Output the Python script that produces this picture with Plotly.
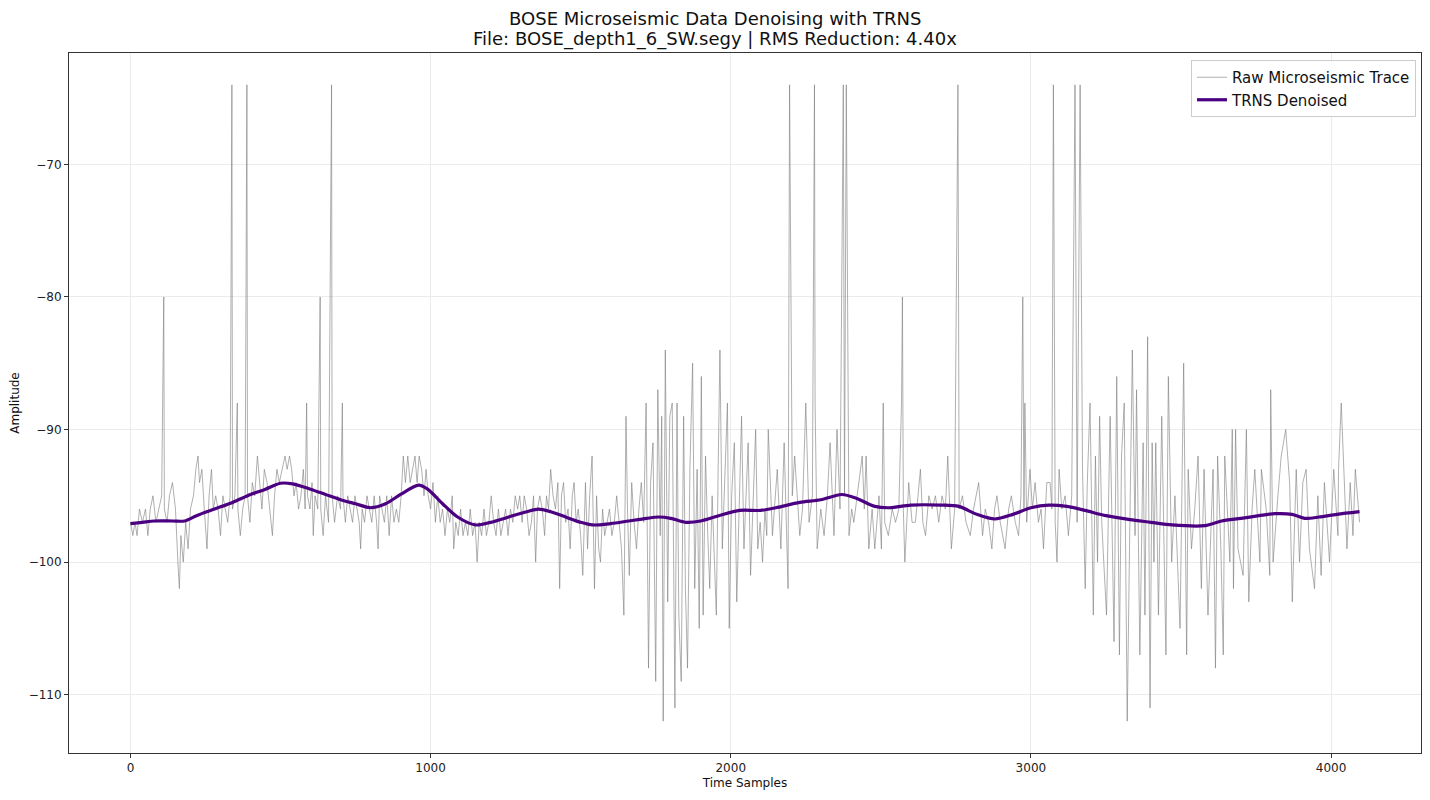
import plotly.graph_objects as go

# ---------------- data ----------------
raw_samples = [
    0, 8, 15, 22, 30, 40, 50, 58, 66, 75,
    85, 95, 104, 111, 113, 122, 130, 140, 150, 158,
    163, 168, 176, 184, 192, 200, 210, 218, 225, 230,
    238, 246, 255, 262, 270, 276, 284, 292, 300, 308,
    316, 324, 332, 338, 340, 348, 356, 358, 366, 374,
    382, 388, 390, 398, 406, 414, 423, 430, 438, 446,
    455, 464, 473, 480, 488, 496, 505, 515, 522, 530,
    537, 545, 552, 560, 568, 576, 582, 587, 590, 598,
    605, 609, 615, 624, 632, 634, 642,
    650, 660, 670, 672, 680, 690, 700, 706, 708, 716,
    724, 732, 740, 748, 756, 762, 767, 772, 780, 788,
    796, 804, 812, 820, 825, 830, 838, 846, 854, 862,
    870, 878, 886, 894, 902, 909, 916, 924, 932, 940,
    948, 955, 962, 970, 978, 985, 992, 1000, 1008, 1016,
    1024, 1032, 1040, 1048, 1056, 1064, 1072, 1077, 1084, 1092,
    1100, 1108, 1116, 1124, 1132, 1140, 1148, 1155, 1162, 1170,
    1178, 1186, 1194, 1202, 1210, 1218, 1226, 1234, 1242, 1250,
    1258, 1266, 1274, 1282, 1290, 1297, 1305, 1312, 1320, 1328,
    1336, 1343, 1350, 1356, 1364,
    1372, 1380, 1386, 1393, 1400, 1408, 1416, 1424, 1430, 1436,
    1443, 1450, 1458, 1465, 1472, 1478, 1485, 1492, 1500, 1507,
    1512, 1516, 1523, 1530, 1538, 1546, 1553, 1560, 1566, 1573,
    1580, 1588, 1596, 1604, 1612, 1620, 1628, 1636, 1644, 1651,
    1656, 1662, 1670, 1678, 1686, 1694, 1702, 1710,
    1718, 1726, 1733, 1741, 1750, 1757, 1765, 1770, 1775, 1782,
    1790, 1797, 1805, 1814, 1821, 1827, 1835, 1843, 1849, 1856,
    1864, 1873, 1880, 1888, 1895, 1902, 1908, 1916, 1922, 1930,
    1938, 1944, 1952, 1958, 1964, 1972, 1980, 1989, 1995, 2003,
    2012, 2020, 2028, 2036, 2044, 2050, 2058, 2066, 2075, 2083,
    2090, 2098, 2106, 2114, 2120, 2125,
    2139, 2155, 2167, 2178, 2191, 2196, 2205, 2213, 2230, 2239,
    2250, 2261, 2272, 2279, 2281, 2288, 2300, 2311, 2322, 2331,
    2344, 2354, 2364, 2375, 2379, 2385, 2394, 2403, 2410, 2427,
    2438, 2445, 2451, 2460, 2471, 2480, 2494, 2502, 2508, 2513,
    2525, 2538, 2549, 2560, 2569, 2572, 2575, 2580, 2588, 2593,
    2604, 2615, 2624, 2632, 2640, 2649, 2660, 2671, 2682, 2693,
    2704, 2715, 2723, 2735, 2746, 2757, 2761, 2772, 2784, 2798,
    2809, 2826, 2839, 2848, 2859,
    2870, 2879, 2887, 2898, 2914, 2926, 2935, 2948, 2959, 2967,
    2973, 2977, 2980, 2986, 2997, 3005, 3014, 3025, 3034, 3042,
    3053, 3064, 3070, 3075, 3081, 3087, 3094, 3103, 3114, 3125,
    3136, 3147, 3154, 3164, 3172, 3181, 3188, 3197, 3203, 3208,
    3215,
    3222, 3229, 3236, 3252, 3264, 3277, 3286, 3295, 3302, 3311,
    3321, 3328, 3338, 3347, 3352, 3363, 3374, 3380, 3389, 3397,
    3404, 3410, 3416, 3425, 3436, 3450, 3458, 3469, 3480, 3497,
    3509, 3519, 3524, 3535, 3546, 3557, 3568, 3577, 3590, 3607,
    3615, 3622, 3633, 3641, 3646, 3663, 3671, 3675, 3682, 3690,
    3707, 3718, 3726, 3737, 3746, 3763, 3768, 3784, 3796, 3799,
    3807, 3823, 3834, 3849, 3862, 3871, 3884, 3895, 3906, 3917,
    3928, 3945, 3956, 3967, 3978, 3995, 4009, 4023, 4025, 4034,
    4045, 4053, 4064, 4073, 4081, 4095,
]

raw_amplitude = [
    -97, -98, -97, -98, -96, -97, -96, -98, -96, -95,
    -97, -96, -95, -80, -96, -97, -95, -94, -96, -100,
    -102, -98, -100, -97, -99, -96, -95, -93, -92, -94,
    -93, -96, -99, -95, -93, -96, -95, -96, -98, -95,
    -96, -97, -95, -64, -96, -95, -88, -96, -98, -96,
    -95, -64, -95, -97, -94, -95, -92, -94, -96, -93,
    -94, -96, -98, -95, -93, -94, -93, -92, -93, -92,
    -93, -95, -94, -96, -95, -93, -96, -88, -95, -96,
    -94, -98, -95, -96, -80, -96, -98,
    -95, -97, -64, -95, -97, -95, -96, -88, -95, -97,
    -95, -96, -97, -95, -96, -97, -99, -96, -97, -95,
    -96, -97, -95, -97, -99, -95, -96, -97, -95, -98,
    -95, -97, -96, -97, -95, -92, -94, -92, -94, -93,
    -92, -94, -92, -93, -95, -93, -95, -96, -94, -97,
    -95, -97, -96, -98, -96, -97, -95, -99, -97, -98,
    -96, -98, -97, -98, -96, -98, -97, -100, -97, -98,
    -96, -98, -97, -95, -97, -98, -96, -98, -97, -96,
    -98, -96, -97, -95, -96, -95, -97, -95, -96, -98,
    -97, -95, -100, -96, -95,
    -96, -98, -95, -96, -93, -95, -96, -94, -102, -95,
    -94, -97, -96, -99, -95, -94, -97, -96, -98, -101,
    -96, -94, -99, -95, -92, -102, -95, -99, -100, -96,
    -98, -97, -96, -98, -97, -95, -97, -99, -104, -89,
    -96, -101, -94, -97, -99, -96, -94, -97,
    -88, -108, -94, -91, -109, -87, -98, -89, -112, -84,
    -103, -89, -88, -111, -88, -104, -109, -89, -102, -108,
    -93, -85, -102, -93, -105, -86, -104, -92, -97, -102,
    -95, -99, -104, -93, -84, -99, -94, -88, -105, -95,
    -91, -103, -96, -89, -99, -95, -91, -101, -95, -90,
    -99, -97, -100, -96, -98, -90,
    -98, -93, -99, -91, -102, -64, -95, -92, -98, -96,
    -88, -97, -95, -64, -88, -99, -96, -98, -95, -91,
    -98, -90, -96, -64, -95, -64, -98, -96, -97, -94,
    -92, -96, -92, -99, -96, -99, -95, -99, -88, -97,
    -98, -96, -97, -96, -88, -80, -96, -100, -96, -94,
    -97, -97, -95, -93, -97, -98, -95, -96, -95, -97,
    -95, -96, -92, -99, -96, -64, -96, -95, -97, -98,
    -96, -94, -98, -96, -97,
    -99, -96, -95, -97, -99, -96, -95, -97, -98, -95,
    -80, -96, -88, -97, -93, -96, -94, -97, -96, -99,
    -94, -94, -96, -64, -97, -100, -93, -96, -95, -98,
    -95, -64, -97, -64, -93, -102, -94, -88, -98, -104,
    -92,
    -100, -89, -97, -104, -89, -106, -86, -107, -92, -88,
    -112, -100, -84, -98, -87, -107, -91, -104, -83, -111,
    -91, -100, -91, -104, -89, -107, -86, -100, -95, -105,
    -85, -107, -93, -99, -96, -92, -102, -93, -104, -93,
    -108, -92, -99, -107, -92, -100, -90, -102, -90, -99,
    -101, -90, -103, -96, -93, -100, -93, -96, -101, -87,
    -100, -95, -92, -90, -94, -103, -93, -100, -94, -93,
    -99, -102, -95, -101, -94, -100, -93, -98, -93, -88,
    -94, -99, -94, -98, -93, -97,
]

denoised_samples = [
    0, 40, 80, 140, 180, 220, 280, 340, 400, 450,
    500, 540, 600, 650, 700, 750, 800, 850, 900, 960,
    990, 1040, 1090, 1150, 1200, 1260, 1320, 1360, 1400, 1450,
    1500, 1540, 1600, 1660, 1720, 1760, 1800, 1850, 1900, 1960,
    2030, 2100, 2150, 2230, 2300, 2370, 2420, 2480, 2530, 2600,
    2700, 2760, 2820, 2880, 2940, 3000, 3060, 3120, 3180, 3250,
    3330, 3400, 3470, 3580, 3635, 3700, 3760, 3812, 3870, 3912,
    3960, 4020, 4095,
]
denoised_amplitude = [
    -97.1, -97.0, -96.9, -96.9, -96.9, -96.5, -96.0, -95.5, -94.9, -94.5,
    -94.05, -94.1, -94.5, -94.9, -95.3, -95.6, -95.9, -95.6, -94.9, -94.2,
    -94.5, -95.6, -96.6, -97.2, -97.0, -96.6, -96.2, -96.0, -96.2, -96.6,
    -97.0, -97.2, -97.1, -96.9, -96.7, -96.6, -96.7, -97.0, -96.9, -96.5,
    -96.1, -96.1, -95.9, -95.5, -95.3, -94.9, -95.2, -95.8, -95.9, -95.7,
    -95.7, -95.8, -96.4, -96.75, -96.4, -95.9, -95.7, -95.8, -96.1, -96.5,
    -96.8, -97.0, -97.2, -97.25, -96.9, -96.7, -96.5, -96.35, -96.4, -96.7,
    -96.6, -96.4, -96.2,
]

x_ticks = [0, 1000, 2000, 3000, 4000]
y_ticks = [-70, -80, -90, -100, -110]

title_line1 = "BOSE Microseismic Data Denoising with TRNS"
title_line2 = "File: BOSE_depth1_6_SW.segy | RMS Reduction: 4.40x"

assert len(raw_samples) == len(raw_amplitude)
assert len(denoised_samples) == len(denoised_amplitude)

# ---------------- figure ----------------
FONT = "DejaVu Sans"
# plot area (figure coordinates; page adds an 8px body margin)
L, T, R, B = 61, 45, 1413, 745
W, H = 1430, 800
PW, PH = R - L, B - T

fig = go.Figure()
fig.add_trace(go.Scatter(
    x=raw_samples, y=raw_amplitude, mode="lines",
    name="Raw Microseismic Trace",
    line=dict(color="rgba(128,128,128,0.62)", width=1),
))
fig.add_trace(go.Scatter(
    x=denoised_samples, y=denoised_amplitude, mode="lines",
    name="TRNS Denoised",
    line=dict(color="#4b0082", width=3.2, shape="spline", smoothing=0.8),
))

axis_common = dict(
    showline=True, linecolor="#333333", linewidth=1, mirror=True,
    ticks="outside", ticklen=4, tickcolor="#333333",
    showgrid=True, gridcolor="#ebebeb", gridwidth=1,
    zeroline=False, tickfont=dict(family=FONT, size=12, color="#222"),
)

title_x = (707 - L) / PW
for text, py in [(title_line1, 10.5), (title_line2, 30.5)]:
    fig.add_annotation(
        text=text, xref="paper", yref="paper",
        x=title_x, y=(B - py) / PH, xanchor="center", yanchor="middle",
        showarrow=False, font=dict(family=FONT, size=18, color="#111"),
    )

fig.update_layout(
    width=W, height=H,
    paper_bgcolor="white", plot_bgcolor="white",
    margin=dict(l=L, r=W - R, t=T, b=H - B),
    font=dict(family=FONT, color="#111"),
    xaxis=dict(
        range=[-204.75, 4299.75], tickvals=x_ticks, automargin=True,
        title=dict(text="Time Samples", font=dict(family=FONT, size=12), standoff=4),
        **axis_common,
    ),
    yaxis=dict(
        range=[-114.4, -61.6], tickvals=y_ticks, automargin=False,
        title=dict(text="Amplitude", font=dict(family=FONT, size=12)),
        **axis_common,
    ),
    legend=dict(
        x=(1408 - L) / PW, y=(B - 52) / PH, xanchor="right", yanchor="top",
        bgcolor="rgba(255,255,255,0.9)", bordercolor="#cccccc", borderwidth=1,
        font=dict(family=FONT, size=15, color="#111"),
        tracegroupgap=0,
    ),
    showlegend=True,
)

fig.write_html("out.html")
